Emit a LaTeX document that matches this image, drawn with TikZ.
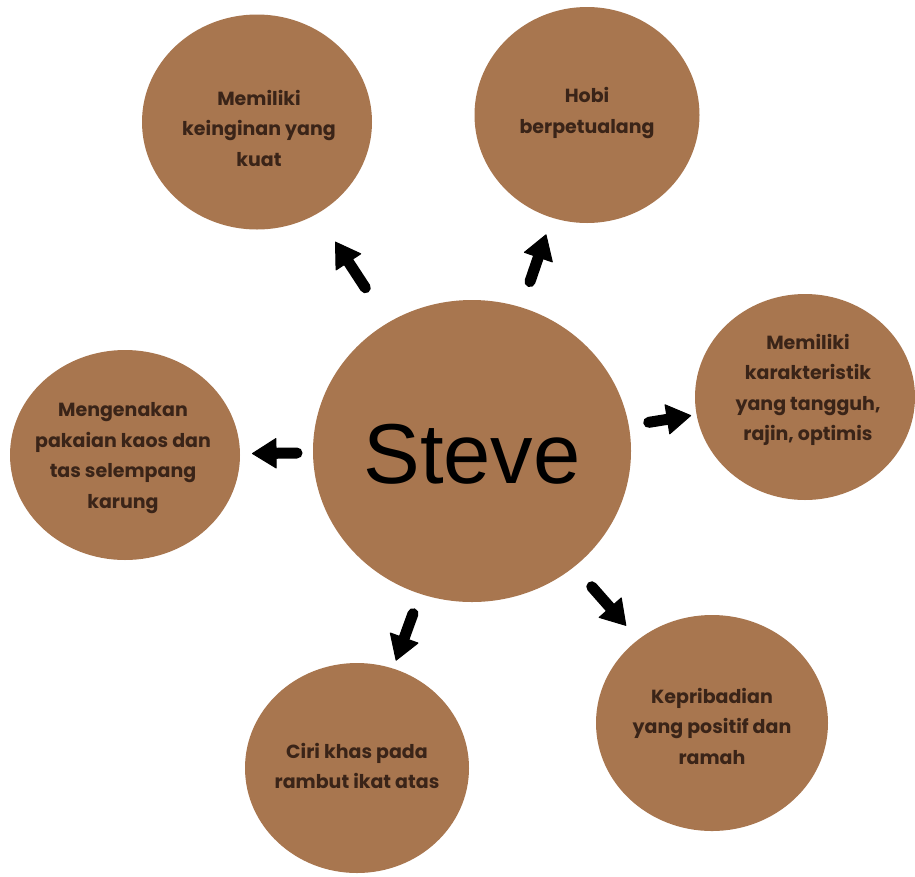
\documentclass[tikz,border=0pt]{standalone}
\usepackage{fontspec}
\setmainfont{Poppins}
\newfontfamily\stevefont{Liberation Sans}
\usetikzlibrary{shapes.geometric,arrows.meta,calc}
\definecolor{bub}{HTML}{A8764F}
\definecolor{ink}{HTML}{3A2418}
\begin{document}
\begin{tikzpicture}[x=1pt,y=-1pt,
  bubble/.style={ellipse, fill=bub, inner sep=0pt},
  lbl/.style={align=center, text=ink, font=\bfseries\fontsize{19}{30.5}\selectfont, inner sep=0pt},
  blk/.style={line width=11pt, line cap=round, draw=black,
    -{Triangle[length=25pt,width=31pt,line width=1pt,round]}}]
\useasboundingbox (0,0) rectangle (915,876);
\fill[white] (0,0) rectangle (915,876);

% bubbles
\node[bubble, minimum width=318pt, minimum height=302pt] (c)  at (472,451) {};
\node[bubble, minimum width=230pt, minimum height=215pt] (tl) at (257,122) {};
\node[bubble, minimum width=225pt, minimum height=216pt] (tr) at (587,115) {};
\node[bubble, minimum width=220pt, minimum height=206pt] (r)  at (805,397) {};
\node[bubble, minimum width=230pt, minimum height=210pt] (l)  at (125,455) {};
\node[bubble, minimum width=224pt, minimum height=210pt] (bl) at (357,768) {};
\node[bubble, minimum width=232pt, minimum height=216pt] (br) at (712,723) {};

% texts
\node[font=\stevefont\fontsize{85}{85}\selectfont, text=black, inner sep=0pt] (ct) at (472,454) {Steve};
\node[lbl] (tlt) at (259,128) {Memiliki\\keinginan yang\\kuat};
\node[lbl] (trt) at (587,113) {Hobi\\berpetualang};
\node[lbl] (rt)  at (808,390) {Memiliki\\karakteristik\\yang tangguh,\\rajin, optimis};
\node[lbl] (lt)  at (123,458) {Mengenakan\\pakaian kaos dan\\tas selempang\\karung};
\node[lbl] (blt) at (357,766) {Ciri khas pada\\rambut ikat atas};
\node[lbl] (brt) at (712,726) {Kepribadian\\yang positif dan\\ramah};

% arrows
\draw[blk] ($(c)!195pt!(tl)$) -- ($(c)!250pt!(tl)$);
\draw[blk] ($(c)!179pt!(tr)$) -- ($(c)!229pt!(tr)$);
\draw[blk] ($(c)!179pt!(r)$)  -- ($(c)!222pt!(r)$);
\draw[blk] ($(c)!181pt!(br)$) -- ($(c)!233pt!(br)$);
\draw[blk] ($(c)!173pt!(bl)$) -- ($(c)!223pt!(bl)$);
\draw[blk] ($(c)!175pt!(l)$)  -- ($(c)!220pt!(l)$);
\end{tikzpicture}
\end{document}
